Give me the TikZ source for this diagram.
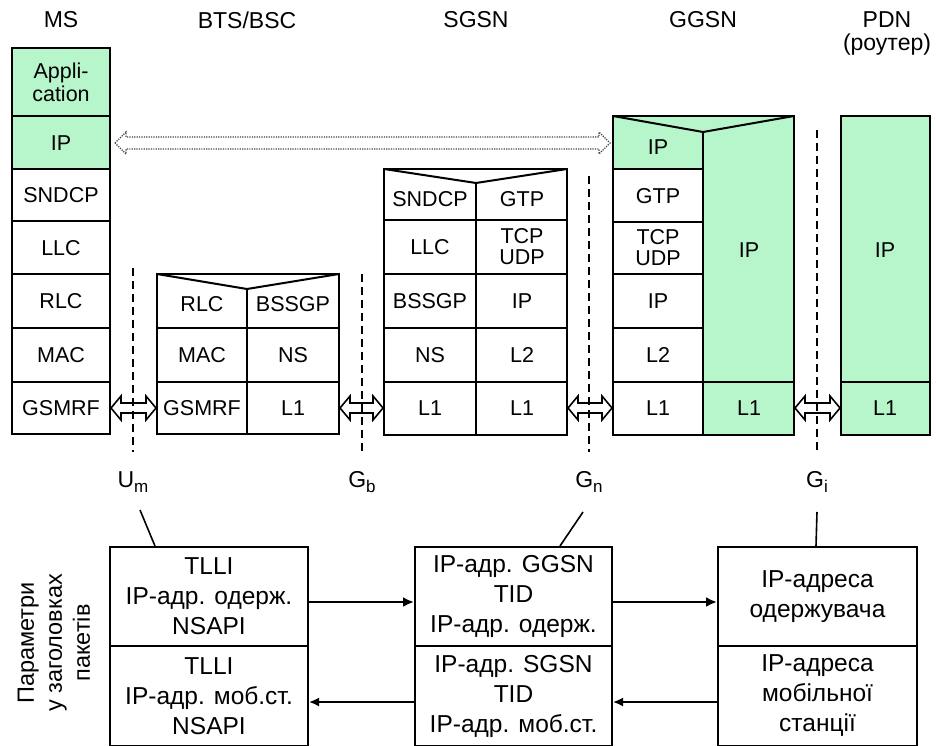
\documentclass[tikz,border=0pt]{standalone}
\usepackage{fontspec}
\setmainfont{Liberation Sans}
\usetikzlibrary{arrows.meta}
\definecolor{gr}{RGB}{183,245,203}
\newcommand\mydarrow[3]{%
  \draw[harr] (#1,#3) -- ({#1+10},{#3-12}) -- ({#1+10},{#3-5}) -- ({#2-10},{#3-5}) -- ({#2-10},{#3-12}) -- (#2,#3) -- ({#2-10},{#3+12}) -- ({#2-10},{#3+5}) -- ({#1+10},{#3+5}) -- ({#1+10},{#3+12}) -- cycle;}
\begin{document}
\begin{tikzpicture}[x=1pt,y=-1pt,
  box/.style={line width=2pt},
  lbl/.style={font=\fontsize{21.5}{23}\selectfont, inner sep=0pt, align=center},
  ttl/.style={font=\fontsize{23}{25}\selectfont, inner sep=0pt},
  iface/.style={font=\fontsize{23}{25}\selectfont, inner sep=0pt},
  bbox/.style={draw, line width=2pt, font=\fontsize{24.5}{30}\selectfont, align=center, inner sep=0pt, minimum width=198pt},
  harr/.style={line width=1.6pt},
  dsh/.style={line width=1.6pt, dash pattern=on 8pt off 5pt},
  conn/.style={line width=1.6pt},
  arrtop/.style={line width=2.5pt, -{Latex[length=11pt,width=10pt]}},
  arrbot/.style={line width=1.7pt, -{Latex[length=10pt,width=9pt]}}]
\useasboundingbox (0,0) rectangle (936,746);

% titles
\node[ttl] (tms) at (61,20) {MS};
\node[ttl] (tbts) at (247,20) {BTS/BSC};
\node[ttl] (tsgsn) at (476,20) {SGSN};
\node[ttl] (tggsn) at (703,20) {GGSN};
\node[ttl] (tpdn) at (887,20) {PDN};
\node[ttl] (trout) at (887,45) {(роутер)};

% MS stack
\fill[gr] (12,48) rectangle (110,169);
\draw[box] (12,48) rectangle (110,434);
\foreach \yy in {116,169,221,274,328,382} \draw[box] (12,\yy) -- (110,\yy);
\node[lbl] (ms1) at (61,82) {Appli-\\cation};
\node[lbl] (ms2) at (61,143) {IP};
\node[lbl] (ms3) at (61,195) {SNDCP};
\node[lbl] (ms4) at (61,248) {LLC};
\node[lbl] (ms5) at (61,301) {RLC};
\node[lbl] (ms6) at (61,355) {MAC};
\node[lbl] (ms7) at (61,408) {GSMRF};

% BTS/BSC stack
\draw[box] (157,274) rectangle (339,434);
\draw[box] (157,274) -- (247,289) -- (339,274);
\draw[box] (247,289) -- (247,434);
\foreach \yy in {328,382} \draw[box] (157,\yy) -- (339,\yy);
\node[lbl] (bt1) at (202,304) {RLC};
\node[lbl] (bt2) at (293,304) {BSSGP};
\node[lbl] (bt3) at (202,355) {MAC};
\node[lbl] (bt4) at (293,355) {NS};
\node[lbl] (bt5) at (202,408) {GSMRF};
\node[lbl] (bt6) at (293,408) {L1};

% SGSN stack
\draw[box] (384,169) rectangle (567,435);
\draw[box] (384,169) -- (476,183) -- (567,169);
\draw[box] (476,183) -- (476,435);
\foreach \yy in {220,274,328,382} \draw[box] (384,\yy) -- (567,\yy);
\node[lbl] (sg1) at (430,199) {SNDCP};
\node[lbl] (sg2) at (522,199) {GTP};
\node[lbl] (sg3) at (430,247) {LLC};
\node[lbl] (sg4) at (522,247) {TCP\\[-2pt]UDP};
\node[lbl] (sg5) at (430,301) {BSSGP};
\node[lbl] (sg6) at (522,301) {IP};
\node[lbl] (sg7) at (430,355) {NS};
\node[lbl] (sg8) at (522,355) {L2};
\node[lbl] (sg9) at (430,408) {L1};
\node[lbl] (sg10) at (522,408) {L1};

% GGSN stack
\fill[gr] (613,116) rectangle (794,435);
\fill[white] (613,169) rectangle (703,435);
\draw[box] (613,116) rectangle (794,435);
\draw[box] (613,116) -- (703,132) -- (794,116);
\draw[box] (703,132) -- (703,435);
\foreach \yy in {169,222,274,328,382} \draw[box] (613,\yy) -- (703,\yy);
\draw[box] (703,382) -- (794,382);
\node[lbl] (gg1) at (658,147) {IP};
\node[lbl] (gg2) at (658,196) {GTP};
\node[lbl] (gg3) at (658,248) {TCP\\[-2pt]UDP};
\node[lbl] (gg4) at (658,301) {IP};
\node[lbl] (gg5) at (658,355) {L2};
\node[lbl] (gg6) at (658,408) {L1};
\node[lbl] (gg7) at (749,250) {IP};
\node[lbl] (gg8) at (749,408) {L1};

% PDN stack
\fill[gr] (841,116) rectangle (930,435);
\draw[box] (841,116) rectangle (930,435);
\draw[box] (841,382) -- (930,382);
\node[lbl] (pd1) at (885,250) {IP};
\node[lbl] (pd2) at (885,408) {L1};

% dotted IP arrow
\draw[line width=1.2pt, draw=black!75, dash pattern=on 1.2pt off 1.2pt]
  (115,143) -- (126,132) -- (126,137) -- (599,137) -- (599,132) -- (610,143) -- (599,154) -- (599,149) -- (126,149) -- (126,154) -- cycle;

% physical links
\mydarrow{111}{156}{408}
\mydarrow{340}{383}{408}
\mydarrow{568}{612}{408}
\mydarrow{795}{840}{408}

% interface dashed lines
\draw[dsh] (133,268) -- (133,452);
\draw[dsh] (362,274) -- (362,452);
\draw[dsh] (589,176) -- (589,452);
\draw[dsh] (817,130) -- (817,452);

% interface labels
\node[iface] (um) at (133,482) {U\raisebox{-5pt}{\fontsize{17}{17}\selectfont m}};
\node[iface] (gb) at (362,482) {G\raisebox{-5pt}{\fontsize{17}{17}\selectfont b}};
\node[iface] (gn) at (589,482) {G\raisebox{-5pt}{\fontsize{17}{17}\selectfont n}};
\node[iface] (gi) at (817,482) {G\raisebox{-5pt}{\fontsize{17}{17}\selectfont i}};

% bottom parameter boxes
\node[bbox, minimum height=99pt] (b1t) at (209,596.5) {TLLI\\IP-адр. одерж.\\NSAPI};
\node[bbox, minimum height=100pt] (b1b) at (209,696) {TLLI\\IP-адр. моб.ст.\\NSAPI};
\node[bbox, minimum height=99pt, minimum width=197pt] (b2t) at (513.5,596.5) {IP-адр. GGSN\\TID\\IP-адр. одерж.};
\node[bbox, minimum height=100pt, minimum width=197pt] (b2b) at (513.5,696) {IP-адр. SGSN\\TID\\IP-адр. моб.ст.};
\node[bbox, minimum height=99pt, minimum width=199pt] (b3t) at (817.5,596.5) {IP-адреса\\одержувача};
\node[bbox, minimum height=100pt, minimum width=199pt] (b3b) at (817.5,696) {IP-адреса\\мобільної\\станції};

\node[font=\fontsize{23.5}{28}\selectfont, align=center, rotate=90, inner sep=0pt] (par) at (54,643) {Параметри\\у заголовках\\пакетів};

% interface connectors
\coordinate (umc) at (140,510);
\coordinate (gnc) at (583,512);
\coordinate (gic) at (817,512);
\draw[conn] (umc) -- ([xshift=46pt]b1t.north west);
\draw[conn] (gnc) -- ([xshift=146pt]b2t.north west);
\draw[conn] (gic) -- ([xshift=99pt]b3t.north west);

% flow arrows
\draw[arrtop] ([yshift=-5.5pt]b1t.east) -- ([yshift=-5.5pt]b2t.west);
\draw[arrtop] ([yshift=-5.5pt]b2t.east) -- ([yshift=-5.5pt]b3t.west);
\draw[arrbot] ([yshift=-6pt]b3b.west) -- ([yshift=-6pt]b2b.east);
\draw[arrbot] ([yshift=-6pt]b2b.west) -- ([yshift=-6pt]b1b.east);
\end{tikzpicture}
\end{document}
